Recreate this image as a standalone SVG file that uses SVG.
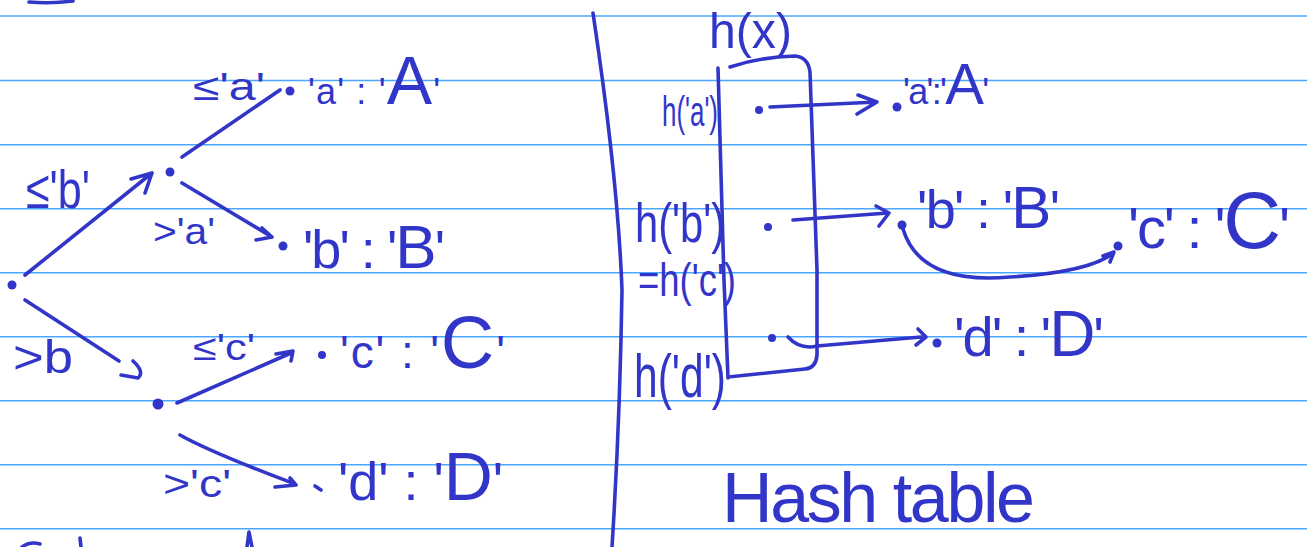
<svg xmlns="http://www.w3.org/2000/svg" width="1307" height="547" viewBox="0 0 1307 547">
<style>
.rule{stroke:#4aa6ff;stroke-width:1.6;fill:none}
.ink{stroke:#3236c8;stroke-width:3.6;fill:none;stroke-linecap:round;stroke-linejoin:round}
.dot{fill:#3236c8}
.t{fill:#3236c8;font-family:"Liberation Sans","DejaVu Sans",sans-serif}
</style>
<rect width="1307" height="547" fill="#ffffff"/>
<g id="rules">
<line class="rule" x1="0" y1="16" x2="1307" y2="16"/>
<line class="rule" x1="0" y1="80.5" x2="1307" y2="80.5"/>
<line class="rule" x1="0" y1="144.7" x2="1307" y2="144.7"/>
<line class="rule" x1="0" y1="208.7" x2="1307" y2="208.7"/>
<line class="rule" x1="0" y1="272.7" x2="1307" y2="272.7"/>
<line class="rule" x1="0" y1="336.7" x2="1307" y2="336.7"/>
<line class="rule" x1="0" y1="400.7" x2="1307" y2="400.7"/>
<line class="rule" x1="0" y1="464.7" x2="1307" y2="464.7"/>
<line class="rule" x1="0" y1="528.7" x2="1307" y2="528.7"/>
</g>
<g id="fragments">
<path class="ink" d="M29,2 Q50,4 73,1"/>
<path class="ink" d="M22,547 Q30,541 40,544"/>
<path class="ink" d="M80,538 L81,547"/>
<path class="ink" d="M247,547 L249,532 L252,547"/>
</g>
<g id="divider">
<path class="ink" d="M593,13 Q618,180 622,290 Q620,420 612,547"/>
</g>
<g id="connectors">
<path class="ink" d="M25,275 L152,173 M131,179 L152,173 L145,193"/>
<path class="ink" d="M182,157 L280,90"/>
<path class="ink" d="M182,183 L272,237 M262,228 L272,237 L256,240"/>
<path class="ink" d="M25,300 L119,361 M133,361 Q145,372 138,378 L121,375"/>
<path class="ink" d="M177,403 L291,353 M276,354 L293,351 L291,361"/>
<path class="ink" d="M180,435 Q210,452 295,484 M275,487 L296,485 L290,478"/>
<path class="ink" d="M770,107 L877,102 M858,95 L877,102 L857,114"/>
<path class="ink" d="M793,220 L888,213 M876,206 L889,213 L879,226"/>
<path class="ink" d="M903,229 Q920,285 1010,277 Q1090,272 1113,253 M1103,256 L1114,252 L1110,262"/>
<path class="ink" d="M788,337 Q800,350 817,346 L921,337 M918,329 L926,337 L916,345"/>
</g>
<g id="tree-root"><circle class="dot" cx="12" cy="285" r="4.5"/></g>
<g id="tree-node-b">
<circle class="dot" cx="170" cy="172" r="4.5"/>
<text class="t" x="26" y="208" font-size="54" textLength="64" lengthAdjust="spacingAndGlyphs">≤'b'</text>
</g>
<g id="tree-node-c">
<circle class="dot" cx="158" cy="404" r="5.5"/>
<text class="t" x="13" y="373" font-size="46" textLength="60" lengthAdjust="spacingAndGlyphs">&gt;b</text>
</g>
<g id="leaf-a">
<text class="t" x="193" y="100" font-size="38" textLength="72" lengthAdjust="spacingAndGlyphs">≤'a'</text>
<circle class="dot" cx="290" cy="91" r="4.5"/>
<text class="t" x="308" y="104" font-size="36" textLength="132" lengthAdjust="spacing">'a' : '<tspan font-size="68">A</tspan>'</text>
</g>
<g id="leaf-b">
<text class="t" x="153" y="244" font-size="36" textLength="62" lengthAdjust="spacingAndGlyphs">&gt;'a'</text>
<circle class="dot" cx="283" cy="246" r="4.5"/>
<text class="t" x="303" y="268" font-size="54" textLength="142" lengthAdjust="spacing">'b' : '<tspan font-size="62">B</tspan>'</text>
</g>
<g id="leaf-c">
<text class="t" x="193" y="360" font-size="36" textLength="62" lengthAdjust="spacingAndGlyphs">≤'c'</text>
<circle class="dot" cx="322" cy="355" r="4"/>
<text class="t" x="340" y="368" font-size="46" textLength="165" lengthAdjust="spacing">'c' : '<tspan font-size="74">C</tspan>'</text>
</g>
<g id="leaf-d">
<text class="t" x="163" y="497" font-size="38" textLength="68" lengthAdjust="spacingAndGlyphs">&gt;'c'</text>
<path class="ink" d="M315,486 L321,490"/>
<text class="t" x="338" y="500" font-size="54" textLength="165" lengthAdjust="spacing">'d' : '<tspan font-size="68">D</tspan>'</text>
</g>
<g id="hash-table">
<text class="t" x="709" y="48" font-size="50" textLength="83" lengthAdjust="spacingAndGlyphs">h(x)</text>
<path class="ink" d="M718,68 L724,280 L728,378 M728,377 L805,369 Q816,368 817,355 L817,270 L810,72 Q808,57 795,56 Q760,57 730,67"/>
<text class="t" x="662" y="126" font-size="42" textLength="56" lengthAdjust="spacingAndGlyphs">h('a')</text>
<text class="t" x="635" y="242" font-size="56" textLength="90" lengthAdjust="spacingAndGlyphs">h('b')</text>
<text class="t" x="638" y="296" font-size="46" textLength="98" lengthAdjust="spacingAndGlyphs">=h('c')</text>
<text class="t" x="634" y="397" font-size="62" textLength="92" lengthAdjust="spacingAndGlyphs">h('d')</text>
<circle class="dot" cx="759" cy="110" r="4"/>
<circle class="dot" cx="768" cy="227" r="4"/>
<circle class="dot" cx="772" cy="338" r="4"/>
<text class="t" x="722" y="522" font-size="70" textLength="313" lengthAdjust="spacing">Hash table</text>
</g>
<g id="entry-a">
<circle class="dot" cx="897" cy="107" r="4.5"/>
<text class="t" x="903" y="104" font-size="36" textLength="86" lengthAdjust="spacing">'a':'<tspan font-size="58">A</tspan>'</text>
</g>
<g id="entry-b">
<circle class="dot" cx="902" cy="225" r="4.5"/>
<text class="t" x="917" y="228" font-size="54" textLength="143" lengthAdjust="spacing">'b' : '<tspan font-size="60">B</tspan>'</text>
</g>
<g id="entry-c">
<circle class="dot" cx="1118" cy="246" r="4.5"/>
<text class="t" x="1128" y="248" font-size="58" textLength="162" lengthAdjust="spacing">'c' : '<tspan font-size="80">C</tspan>'</text>
</g>
<g id="entry-d">
<circle class="dot" cx="937" cy="343" r="4.5"/>
<text class="t" x="954" y="356" font-size="56" textLength="150" lengthAdjust="spacing">'d' : '<tspan font-size="64">D</tspan>'</text>
</g>
</svg>
